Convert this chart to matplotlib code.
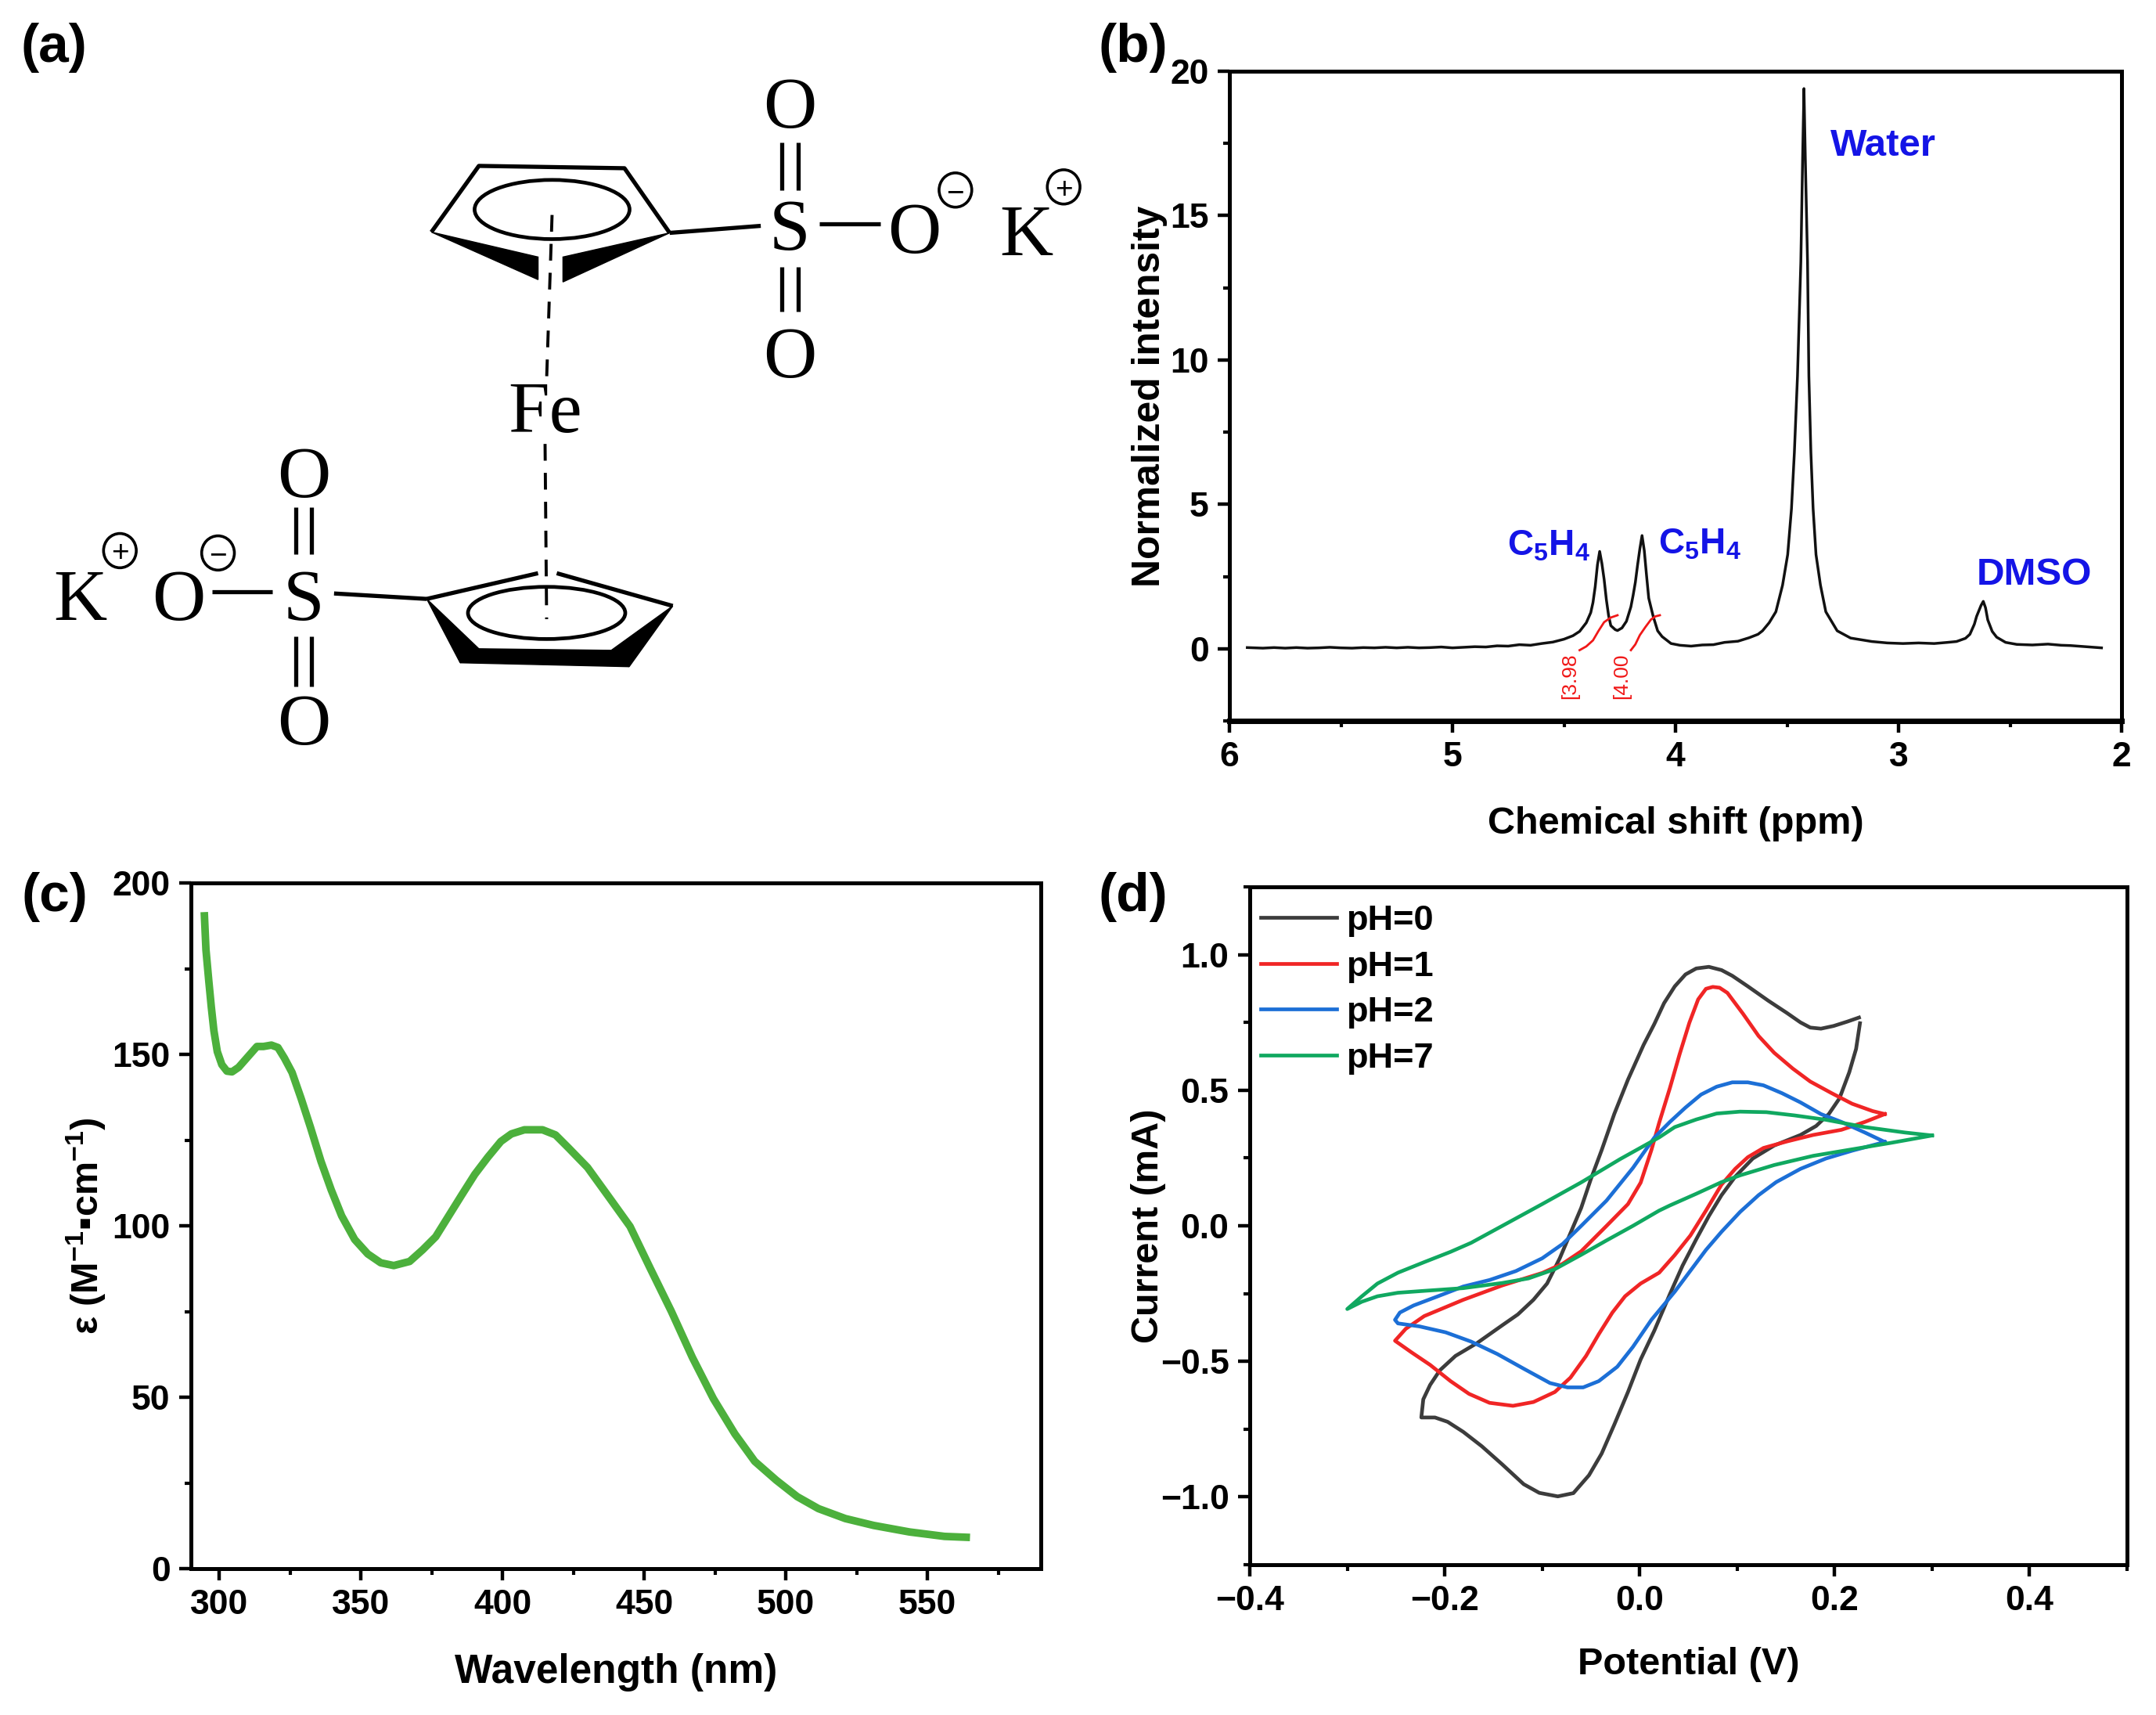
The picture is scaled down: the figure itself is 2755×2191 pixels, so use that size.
import matplotlib
matplotlib.use('Agg')
import matplotlib.pyplot as plt
from matplotlib.patches import Ellipse, Polygon
from matplotlib.ticker import MultipleLocator, FuncFormatter

plt.rcParams['font.family'] = ['Liberation Sans', 'DejaVu Sans']
plt.rcParams['font.weight'] = 'bold'
plt.rcParams['axes.labelweight'] = 'bold'
plt.rcParams['mathtext.fontset'] = 'custom'
plt.rcParams['mathtext.rm'] = 'Liberation Sans:bold'
plt.rcParams['mathtext.default'] = 'rm'

W, H = 2755, 2191

# (b) NMR spectrum
nmr_ppm = [5.92, 5.85, 5.80, 5.75, 5.70, 5.65, 5.60, 5.55, 5.50, 5.45, 5.40, 5.35, 5.30, 5.25, 5.20, 5.15, 5.10,
           5.05, 5.00, 4.95, 4.90, 4.85, 4.80, 4.75, 4.70, 4.65, 4.60, 4.55, 4.50, 4.46, 4.43, 4.40, 4.38, 4.37,
           4.36, 4.35, 4.34, 4.33, 4.32, 4.31, 4.30, 4.29, 4.27, 4.26, 4.24, 4.22, 4.20, 4.19, 4.18, 4.17, 4.16,
           4.15, 4.14, 4.13, 4.12, 4.10, 4.08, 4.06, 4.02, 3.98, 3.93, 3.88, 3.83, 3.78, 3.72, 3.67, 3.63, 3.61,
           3.58, 3.55, 3.52, 3.497, 3.48, 3.467, 3.453, 3.438, 3.43, 3.424, 3.418, 3.408, 3.402, 3.393, 3.383,
           3.37, 3.35, 3.326, 3.275, 3.215, 3.12, 3.05, 2.98, 2.91, 2.84, 2.78, 2.74, 2.70, 2.68, 2.66, 2.65,
           2.63, 2.62, 2.61, 2.60, 2.58, 2.56, 2.52, 2.47, 2.40, 2.33, 2.27, 2.23, 2.16, 2.09]
nmr_int = [0.04, 0.02, 0.04, 0.02, 0.04, 0.02, 0.03, 0.05, 0.03, 0.02, 0.04, 0.03, 0.05, 0.03, 0.05, 0.03, 0.04,
           0.06, 0.03, 0.05, 0.07, 0.06, 0.10, 0.09, 0.14, 0.12, 0.18, 0.23, 0.33, 0.45, 0.60, 0.90, 1.25, 1.60,
           2.15, 2.90, 3.37, 2.95, 2.40, 1.70, 1.15, 0.80, 0.66, 0.63, 0.72, 0.95, 1.45, 1.85, 2.30, 2.90, 3.45,
           3.92, 3.40, 2.55, 1.75, 1.12, 0.62, 0.42, 0.18, 0.12, 0.09, 0.13, 0.14, 0.22, 0.26, 0.38, 0.50, 0.62,
           0.90, 1.28, 2.20, 3.26, 4.85, 6.80, 9.45, 13.4, 17.0, 19.4, 17.0, 13.4, 9.45, 6.80, 4.85,
           3.26, 2.20, 1.28, 0.62, 0.37, 0.25, 0.20, 0.18, 0.20, 0.18, 0.22, 0.25, 0.36, 0.50, 0.85, 1.12,
           1.50, 1.64, 1.42, 1.00, 0.60, 0.40, 0.22, 0.15, 0.13, 0.16, 0.12, 0.11, 0.07, 0.03]
int1_ppm = [4.26, 4.29, 4.32, 4.345, 4.37, 4.40, 4.43]
int1_val = [1.16, 1.08, 0.92, 0.62, 0.29, 0.08, -0.05]
int2_ppm = [4.07, 4.09, 4.11, 4.135, 4.16, 4.18, 4.20]
int2_val = [1.16, 1.12, 1.01, 0.75, 0.47, 0.15, -0.05]

# (c) absorption
wl = [294.7, 295.3, 296.3, 297.2, 298.1, 299.3, 300.9, 302.7, 304.5, 306.8, 310.1, 313.3, 315.6, 318.4, 320.7, 323,
      325.7, 328.9, 332.2, 335.9, 339.5, 343.2, 347.8, 352.4, 357, 361.6, 367.2, 371.8, 376.4, 381, 385.6, 390.2,
      394.8, 399.4, 403.1, 407.7, 414.1, 418.7, 423.3, 430, 437, 445, 452, 459.6, 467, 474.4, 482, 489, 496.6, 504,
      511.5, 521, 531, 543.6, 556, 565]
eps = [191.5, 180.5, 171.4, 163.7, 156.9, 150.8, 147, 145.1, 144.9, 146.2, 149.3, 152.3, 152.3, 152.7, 152, 148.9,
       144.7, 137.1, 128.7, 118.8, 110.5, 102.9, 96, 91.8, 89.2, 88.4, 89.6, 93, 96.8, 102.9, 109, 115,
       120, 124.6, 126.8, 128, 128, 126.5, 122.7, 117, 109, 99.8, 87.8, 75, 61.6, 49.6, 39.3, 31.3, 25.8, 21,
       17.5, 14.6, 12.6, 10.7, 9.4, 9.1]

# (d) cyclic voltammetry
ph0_v = [0.225, 0.213, 0.199, 0.186, 0.175, 0.165, 0.151, 0.132, 0.111, 0.095, 0.084, 0.071, 0.058, 0.047, 0.036,
         0.025, 0.015, 0.004, -0.012, -0.026, -0.039, -0.050, -0.060, -0.071, -0.082, -0.095, -0.109, -0.125, -0.141,
         -0.167, -0.189, -0.205, -0.215, -0.222, -0.224, -0.210, -0.197, -0.181, -0.162, -0.141, -0.119, -0.103,
         -0.084, -0.068, -0.052, -0.039, -0.026, -0.012, 0.001, 0.015, 0.031, 0.044, 0.058, 0.071, 0.084, 0.098,
         0.116, 0.138, 0.165, 0.181, 0.194, 0.205, 0.215, 0.222, 0.226]
ph0_i = [0.768, 0.753, 0.737, 0.727, 0.731, 0.750, 0.785, 0.830, 0.883, 0.922, 0.943, 0.955, 0.949, 0.927, 0.883,
         0.821, 0.744, 0.667, 0.539, 0.413, 0.279, 0.173, 0.066, -0.027, -0.120, -0.213, -0.273, -0.327, -0.367,
         -0.433, -0.480, -0.533, -0.587, -0.640, -0.707, -0.707, -0.723, -0.760, -0.813, -0.880, -0.953, -0.985,
         -0.998, -0.986, -0.920, -0.840, -0.733, -0.613, -0.493, -0.387, -0.252, -0.147, -0.050, 0.036, 0.113, 0.181,
         0.248, 0.296, 0.335, 0.368, 0.412, 0.470, 0.566, 0.652, 0.747]
ph1_v = [0.2515, 0.239, 0.218, 0.197, 0.175, 0.157, 0.138, 0.122, 0.106, 0.090, 0.082, 0.075, 0.068, 0.060, 0.051,
         0.041, 0.031, 0.020, 0.012, 0.001, -0.012, -0.034, -0.060, -0.079, -0.100, -0.141, -0.181, -0.221, -0.240,
         -0.251, -0.234, -0.215, -0.194, -0.175, -0.154, -0.130, -0.109, -0.087, -0.071, -0.055, -0.042, -0.028,
         -0.015, 0.001, 0.020, 0.036, 0.052, 0.068, 0.084, 0.098, 0.111, 0.127, 0.151, 0.178, 0.207, 0.231, 0.2515]
ph1_i = [0.412, 0.423, 0.450, 0.489, 0.532, 0.580, 0.638, 0.700, 0.782, 0.859, 0.878, 0.881, 0.874, 0.835, 0.749,
         0.633, 0.508, 0.380, 0.279, 0.159, 0.080, -0.0004, -0.094, -0.140, -0.174, -0.220, -0.273, -0.333, -0.380,
         -0.424, -0.467, -0.513, -0.573, -0.620, -0.653, -0.664, -0.650, -0.613, -0.560, -0.480, -0.400, -0.320,
         -0.260, -0.213, -0.173, -0.108, -0.036, 0.056, 0.152, 0.210, 0.253, 0.287, 0.311, 0.335, 0.354, 0.383, 0.412]
ph2_v = [0.2515, 0.231, 0.207, 0.186, 0.165, 0.146, 0.127, 0.111, 0.095, 0.079, 0.063, 0.047, 0.031, 0.015, -0.007,
         -0.034, -0.060, -0.079, -0.100, -0.127, -0.154, -0.181, -0.207, -0.232, -0.246, -0.251, -0.248, -0.226,
         -0.199, -0.173, -0.146, -0.119, -0.092, -0.074, -0.058, -0.042, -0.023, -0.007, 0.012, 0.036, 0.052, 0.068,
         0.084, 0.103, 0.122, 0.140, 0.165, 0.191, 0.218, 0.2515]
ph2_i = [0.309, 0.344, 0.383, 0.412, 0.455, 0.489, 0.518, 0.529, 0.529, 0.513, 0.484, 0.436, 0.383, 0.325, 0.213,
         0.093, -0.0004, -0.067, -0.120, -0.167, -0.200, -0.224, -0.260, -0.294, -0.320, -0.347, -0.360, -0.371,
         -0.393, -0.427, -0.473, -0.527, -0.580, -0.596, -0.596, -0.573, -0.520, -0.447, -0.347, -0.243, -0.166,
         -0.089, -0.022, 0.051, 0.113, 0.161, 0.210, 0.248, 0.277, 0.309]
ph7_v = [0.300, 0.272, 0.231, 0.191, 0.159, 0.130, 0.103, 0.079, 0.058, 0.036, 0.020, -0.020, -0.060, -0.100, -0.141,
         -0.173, -0.194, -0.221, -0.248, -0.269, -0.285, -0.300, -0.285, -0.269, -0.248, -0.221, -0.181, -0.141,
         -0.114, -0.087, -0.060, -0.034, -0.007, 0.020, 0.031, 0.058, 0.084, 0.103, 0.138, 0.178, 0.218, 0.258, 0.300]
ph7_i = [0.333, 0.344, 0.364, 0.391, 0.407, 0.419, 0.421, 0.414, 0.392, 0.364, 0.326, 0.246, 0.160, 0.080, -0.0004,
         -0.063, -0.096, -0.134, -0.173, -0.213, -0.260, -0.307, -0.280, -0.260, -0.247, -0.240, -0.230, -0.211,
         -0.194, -0.160, -0.107, -0.054, -0.0004, 0.056, 0.075, 0.118, 0.161, 0.186, 0.224, 0.258, 0.282, 0.306, 0.333]
cv_labels = ['pH=0', 'pH=1', 'pH=2', 'pH=7']
cv_colors = ['#3c3c3c', '#f02525', '#1c6fd6', '#10a860']

TICK_FS = 32
LABEL_FS = 35
SPINE = 3.6


def axes_px(fig, left, top, right, bottom):
    return fig.add_axes([left / W, 1 - bottom / H, (right - left) / W, (bottom - top) / H])


def style_axes(ax):
    for s in ax.spines.values():
        s.set_linewidth(SPINE)
    ax.tick_params(which='major', direction='out', length=11, width=3.2, labelsize=TICK_FS, pad=8,
                   top=False, right=False)
    ax.tick_params(which='minor', direction='out', length=6, width=3.0, top=False, right=False)


fig = plt.figure(figsize=(W / 100, H / 100), dpi=100, facecolor='white')

# panel b
ax_b = axes_px(fig, 1571, 91, 2711, 921)
style_axes(ax_b)
ax_b.plot(nmr_ppm, nmr_int, color='#111111', lw=2.5)
ax_b.plot(int1_ppm, int1_val, color='#f01818', lw=2)
ax_b.plot(int2_ppm, int2_val, color='#f01818', lw=2)
ax_b.set_xlim(6, 2)
ax_b.set_ylim(-2.5, 20)
ax_b.xaxis.set_major_locator(MultipleLocator(1))
ax_b.xaxis.set_minor_locator(MultipleLocator(0.5))
ax_b.yaxis.set_major_locator(MultipleLocator(5))
ax_b.yaxis.set_minor_locator(MultipleLocator(2.5))
ax_b.spines['bottom'].set_linewidth(5)
ax_b.set_xlabel('Chemical shift (ppm)', fontsize=LABEL_FS, labelpad=30)
ax_b.set_ylabel('Normalized intensity', fontsize=35.8, labelpad=2)
ax_b.text(4.475, -0.16, '[3.98', color='#f01818', fontsize=19, fontweight='normal', rotation=90, ha='center', va='top')
ax_b.text(4.24, -0.16, '[4.00', color='#f01818', fontsize=19, fontweight='normal', rotation=90, ha='center', va='top')
ax_b.text(4.57, 3.56, 'C$_5$H$_4$', color='#1414e6', fontsize=33, ha='center', va='center')
ax_b.text(3.89, 3.6, 'C$_5$H$_4$', color='#1414e6', fontsize=33, ha='center', va='center')
ax_b.text(3.07, 17.4, 'Water', color='#1414e6', fontsize=35.5, ha='center', va='center')
ax_b.text(2.39, 2.55, 'DMSO', color='#1414e6', fontsize=35.5, ha='center', va='center')

# panel c
ax_c = axes_px(fig, 244, 1128, 1330, 2004)
style_axes(ax_c)
ax_c.plot(wl, eps, color='#4cb03c', lw=7, solid_joinstyle='round', solid_capstyle='butt')
ax_c.set_xlim(290, 590)
ax_c.set_ylim(0, 200)
ax_c.xaxis.set_major_locator(MultipleLocator(50))
ax_c.xaxis.set_minor_locator(MultipleLocator(25))
ax_c.yaxis.set_major_locator(MultipleLocator(50))
ax_c.yaxis.set_minor_locator(MultipleLocator(25))
ax_c.set_xlabel('Wavelength (nm)', fontsize=37, labelpad=29)
ax_c.set_ylabel('ε (M$^{-1}$▪cm$^{-1}$)', fontsize=LABEL_FS, labelpad=4)

# panel d
ax_d = axes_px(fig, 1597, 1133, 2718, 1999)
style_axes(ax_d)
for vv, ii, lab, col in zip([ph0_v, ph1_v, ph2_v, ph7_v], [ph0_i, ph1_i, ph2_i, ph7_i], cv_labels, cv_colors):
    ax_d.plot(vv, ii, color=col, lw=3.4, label=lab, solid_joinstyle='round')
ax_d.set_xlim(-0.4, 0.5)
ax_d.set_ylim(-1.25, 1.25)
ax_d.xaxis.set_major_locator(MultipleLocator(0.2))
ax_d.xaxis.set_minor_locator(MultipleLocator(0.1))
ax_d.yaxis.set_major_locator(MultipleLocator(0.5))
ax_d.yaxis.set_minor_locator(MultipleLocator(0.25))
ax_d.xaxis.set_major_formatter(FuncFormatter(lambda v, p: f'{v:.1f}'.replace('-', '\u2212')))
ax_d.yaxis.set_major_formatter(FuncFormatter(lambda v, p: f'{v:.1f}'.replace('-', '\u2212')))
ax_d.set_xlabel('Potential (V)', fontsize=LABEL_FS, labelpad=27)
ax_d.set_ylabel('Current (mA)', fontsize=LABEL_FS, labelpad=-5)
ax_d.legend(loc='upper left', bbox_to_anchor=(-0.006, 0.997), frameon=False, fontsize=32.5, handlelength=2.15,
            handletextpad=0.28, labelspacing=0.39, borderaxespad=0.15, borderpad=0.3)

# panel a, structure drawn in image pixels
ov = fig.add_axes([0, 0, 1, 1], facecolor='none')
ov.set_xlim(0, W / 0.995)
ov.set_ylim(H / 0.995, 0)
ov.axis('off')

for xs, ys in [((554, 615, 802, 860), (298, 213, 216, 299)),
               ((860, 977), (299, 290)),
               ((1052, 1131), (287, 287)),
               ((1004, 1004), (183, 244)), ((1025, 1025), (183, 244)),
               ((1004, 1004), (343, 400)), ((1025, 1025), (343, 400)),
               ((548, 691), (769, 736)), ((715, 864), (736, 778)),
               ((548, 429), (769, 762)),
               ((272, 350), (760, 760)),
               ((380, 380), (651, 712)), ((400, 400), (651, 712)),
               ((380, 380), (817, 881)), ((400, 400), (817, 881))]:
    ov.plot(xs, ys, color='black', lw=3.8, solid_capstyle='butt')
for xs, ys in [((709, 702), (276, 487)), ((700, 702), (570, 795))]:
    ov.plot(xs, ys, color='black', lw=2.8, dashes=(5.5, 4))
for pts in [[(554, 298), (691, 330), (691, 359)],
            [(860, 299), (723, 330), (723, 362)],
            [(548, 769), (591, 851), (615, 833)],
            [(591, 851), (808, 856), (785, 835), (615, 833)],
            [(864, 778), (808, 856), (785, 835)]]:
    ov.add_patch(Polygon(pts, closed=True, fc='black', ec='black', lw=1))
ov.add_patch(Ellipse((709, 269), 199, 76, fc='none', ec='black', lw=3.4))
ov.add_patch(Ellipse((702, 787), 202, 67, fc='none', ec='black', lw=3.4))

for x, y, s in [(1014, 131, 'O'), (1014, 288, 'S'), (1014, 452, 'O'), (1174, 292, 'O'), (1318, 295, 'K'),
                (700, 522, 'Fe'),
                (390, 606, 'O'), (390, 763, 'S'), (390, 923, 'O'), (229, 763, 'O'), (103, 763, 'K')]:
    ov.text(x, y, s, family='Liberation Serif', fontweight='normal', fontsize=68, ha='center', va='center_baseline')

for x, y, s in [(1227, 244, '\u2212'), (1366, 240, '+'), (280, 710, '\u2212'), (154, 707, '+')]:
    ov.add_patch(Ellipse((x, y), 42, 44, fc='white', ec='black', lw=2.6))
    ov.text(x, y, s, family='Liberation Sans', fontweight='normal', fontsize=28, ha='center', va='center_baseline')

for x, y, s in [(69, 61, '(a)'), (1448, 61, '(b)'), (70, 1146, '(c)'), (1448, 1146, '(d)')]:
    fig.text(x / W, 1 - y / H, s, fontsize=50, ha='center', va='center')

fig.savefig('out.png', dpi=100)
